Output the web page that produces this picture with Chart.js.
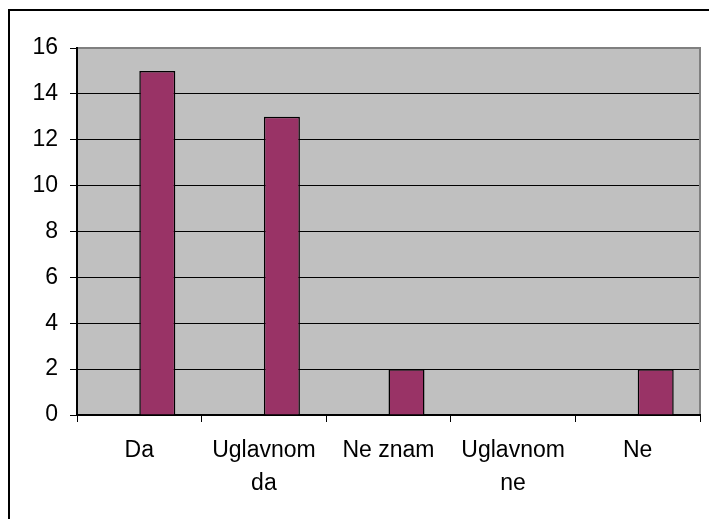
<!DOCTYPE html>
<html lang="sr">
<head>
    <meta charset="UTF-8">
    <title>Odgovori</title>
    <script src="https://cdn.jsdelivr.net/npm/chart.js"></script>
    <style>
        body {
            margin: 0;
            background: #ffffff;
        }

        .wrap {
            position: relative;
            width: 709px;
            height: 519px;
            overflow: hidden;
        }

        /* only the top and left edges of the outer frame are visible */
        .frame {
            position: absolute;
            left: 8px;
            top: 9px;
            width: 720px;
            height: 530px;
            border-left: 2px solid #000;
            border-top: 2px solid #000;
        }

        canvas {
            position: absolute;
            left: 0;
            top: 0;
        }
    </style>
</head>
<body>
    <div class="wrap">
        <div class="frame"></div>
        <canvas id="chart" width="709" height="519"></canvas>
    </div>

    <script>
        // Data
        const categories = [["Da"], ["Uglavnom", "da"], ["Ne znam"], ["Uglavnom", "ne"], ["Ne"]];
        const emptySeries = [];           // first series has no values, bars sit right of centre
        const answers = [15, 13, 2, 0, 2];
        const yTicks = [0, 2, 4, 6, 8, 10, 12, 14, 16];

        const FONT = "'Liberation Sans', Arial, sans-serif";

        // gray plot area, with gray border on top and right
        const plotArea = {
            id: 'plotArea',
            beforeDraw(chart) {
                const { ctx, chartArea: a } = chart;
                ctx.save();
                ctx.fillStyle = '#c0c0c0';
                ctx.fillRect(a.left, a.top, a.right - a.left, a.bottom - a.top);
                ctx.restore();
            },
            afterDraw(chart) {
                const { ctx, chartArea: a } = chart;
                ctx.save();
                ctx.strokeStyle = '#808080';
                ctx.lineWidth = 2;
                ctx.beginPath();
                ctx.moveTo(a.left + 1, a.top);
                ctx.lineTo(a.right, a.top);
                ctx.lineTo(a.right, a.bottom - 1);
                ctx.stroke();
                ctx.restore();
            }
        };

        const ctx = document.getElementById('chart').getContext('2d');
        new Chart(ctx, {
            type: 'bar',
            data: {
                labels: categories,
                datasets: [
                    {
                        label: 'Serija 1',
                        data: emptySeries,
                        backgroundColor: '#993366',
                        borderColor: '#000000',
                        borderWidth: 1.5
                    },
                    {
                        label: 'Serija 2',
                        data: answers,
                        backgroundColor: '#993366',
                        borderColor: '#000000',
                        borderWidth: 1.5
                    }
                ]
            },
            options: {
                responsive: false,
                animation: false,
                categoryPercentage: 0.578,
                barPercentage: 1,
                layout: {
                    padding: { left: 0, top: 48, right: 9, bottom: 0 }
                },
                plugins: {
                    legend: { display: false },
                    tooltip: { enabled: false }
                },
                scales: {
                    x: {
                        grid: {
                            offset: true,
                            drawOnChartArea: false,
                            color: '#000000',
                            tickLength: 7
                        },
                        border: { color: '#000000', width: 2 },
                        ticks: {
                            color: '#000000',
                            padding: 12,
                            maxRotation: 0,
                            autoSkip: false,
                            font: { family: FONT, size: 23, lineHeight: 1.43 }
                        },
                        afterFit(scale) { scale.height = 104; }
                    },
                    y: {
                        min: 0,
                        max: 16,
                        afterBuildTicks(scale) {
                            scale.ticks = yTicks.map(v => ({ value: v }));
                        },
                        grid: {
                            color: '#000000',
                            lineWidth: 1,
                            tickLength: 7
                        },
                        border: { color: '#000000', width: 2 },
                        ticks: {
                            color: '#000000',
                            padding: 12,
                            font: { family: FONT, size: 23 }
                        },
                        afterFit(scale) { scale.width = 77; }
                    }
                }
            },
            plugins: [plotArea]
        });
    </script>
</body>
</html>
